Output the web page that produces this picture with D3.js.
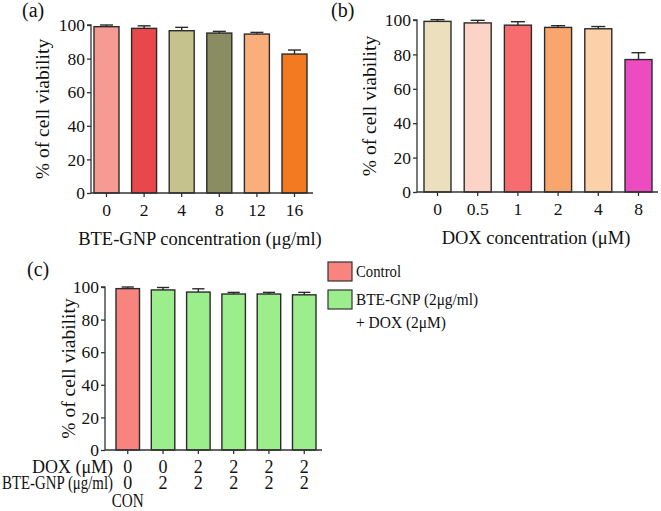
<!DOCTYPE html>
<html><head><meta charset="utf-8">
<script src="https://cdn.jsdelivr.net/npm/d3@7"></script>
<style>body{margin:0;background:#fff}</style>
</head><body><svg id="c" width="661" height="511"></svg>
<script>
// ---- data ----
const catsA = ["0","2","4","8","12","16"];
const valsA = [99.0, 98.0, 96.6, 95.2, 94.6, 82.7];
const errA  = [1.0, 1.5, 2.0, 1.0, 1.0, 2.4];
const colorsA = ["#f69a94","#e8474c","#c5c28e","#8a8c62","#f9ae7c","#f47a22"];

const catsB = ["0","0.5","1","2","4","8"];
const valsB = [99.2, 98.3, 97.0, 95.7, 94.9, 77.0];
const errB  = [1.0, 1.5, 2.0, 1.0, 1.3, 4.0];
const colorsB = ["#ebdfbe","#fbd4c7","#f76d6f","#f9a66e","#fcd0a9","#ec4cc0"];

const catsC = ["CON","G1","G2","G3","G4","G5"];
const doxC  = ["0","0","2","2","2","2"];
const bteC  = ["0","2","2","2","2","2"];
const valsC = [99.0, 98.2, 96.9, 95.7, 95.7, 95.2];
const errC  = [1.0, 1.5, 2.0, 1.0, 1.0, 1.5];
const groupC = ["Control","Combo","Combo","Combo","Combo","Combo"];
const legendLabels = ["Control","BTE-GNP (2μg/ml)","+ DOX (2μM)"];
const legendColors = {Control:"#f7847f", Combo:"#9cee8c"};

const yTicks = [0,20,40,60,80,100];

const FONT = '"Liberation Serif","Times New Roman",Times,"DejaVu Serif",serif';
const svg = d3.select("#c");
const AX = "#333";

function txt(sel){ return sel.attr("font-family",FONT).style("font-family",FONT).attr("fill","#111"); }

function panel(o){
  const g = svg.append("g");
  const y = d3.scaleLinear().domain([0,100]).range([o.y0,o.y100]);
  const n = o.cats.length;
  const s = (o.barEnd - o.barStart - o.bw)/(n-1);
  const x = d3.scaleBand().domain(o.cats).range([o.barStart,o.barEnd])
    .paddingInner(1 - o.bw/s).paddingOuter(0);
  g.selectAll("rect.bar").data(o.vals).join("rect")
    .attr("x",(d,i)=>x(o.cats[i])).attr("width",x.bandwidth())
    .attr("y",d=>y(d)).attr("height",d=>y(0)-y(d))
    .attr("fill",(d,i)=>o.colors[i]).attr("stroke","#2b2b2b").attr("stroke-width",1.4);
  const cw = x.bandwidth()*0.52;
  o.vals.forEach((d,i)=>{
    const cx = x(o.cats[i])+x.bandwidth()/2;
    g.append("line").attr("x1",cx).attr("x2",cx).attr("y1",y(d)).attr("y2",y(d+o.err[i]))
      .attr("stroke","#2b2b2b").attr("stroke-width",1.4);
    g.append("line").attr("x1",cx-cw/2).attr("x2",cx+cw/2).attr("y1",y(d+o.err[i])).attr("y2",y(d+o.err[i]))
      .attr("stroke","#2b2b2b").attr("stroke-width",1.4);
  });
  const ya = g.append("g").attr("transform",`translate(${o.axX},0)`)
    .call(d3.axisLeft(y).tickValues(yTicks).tickSize(4).tickPadding(2).tickFormat(d3.format("d")));
  ya.attr("font-family",FONT);
  ya.selectAll("path,line").attr("stroke",AX).attr("stroke-width",1.3);
  txt(ya.selectAll("text")).attr("font-size",17.5);
  ya.select(".domain").attr("d",`M-4,${o.y100}H0V${o.y0}`);
  const xa = g.append("g").attr("transform",`translate(0,${o.y0})`)
    .call(d3.axisBottom(x).tickSize(4).tickFormat(o.hideX ? "" : null));
  xa.attr("font-family",FONT);
  xa.select(".domain").attr("d",`M${o.axX},0H${o.axEnd}`);
  xa.selectAll("path,line").attr("stroke",AX).attr("stroke-width",1.3);
  txt(xa.selectAll("text")).attr("font-size",17.5).attr("dy",null).attr("y",o.tickBase - o.y0);
  txt(g.append("text")).attr("transform",`translate(${o.ytX},${(o.y0+o.y100)/2}) rotate(-90)`)
    .attr("text-anchor","middle").attr("font-size",19.5).text("% of cell viability");
  if(o.xTitle) txt(g.append("text")).attr("x",o.xtX).attr("y",o.xtY).attr("text-anchor","middle")
    .attr("font-size",18.5).text(o.xTitle);
  txt(g.append("text")).attr("x",o.lbX).attr("y",o.lbY).attr("font-size",20).text(o.label);
  return {x,y,g};
}

panel({cats:catsA, vals:valsA, err:errA, colors:colorsA, y0:193, y100:25,
  barStart:94, barEnd:307, bw:25, axX:91, axEnd:313, tickBase:216,
  ytX:49, xTitle:"BTE-GNP concentration (μg/ml)", xtX:200, xtY:245, label:"(a)", lbX:22, lbY:17});

panel({cats:catsB, vals:valsB, err:errB, colors:colorsB, y0:192, y100:20,
  barStart:424, barEnd:652, bw:27, axX:417, axEnd:658, tickBase:215,
  ytX:376, xTitle:"DOX concentration (μM)", xtX:536, xtY:244, label:"(b)", lbX:331, lbY:17});

const pc = panel({cats:catsC, vals:valsC, err:errC, colors:groupC.map(k=>legendColors[k]), y0:450, y100:287,
  barStart:116, barEnd:316, bw:23.5, axX:105, axEnd:322, tickBase:0, hideX:true,
  ytX:75, xTitle:null, label:"(c)", lbX:27, lbY:276});

const rowFont = 18;
txt(svg.append("text")).attr("x",113).attr("y",473).attr("text-anchor","end").attr("font-size",rowFont)
  .attr("textLength",81).attr("lengthAdjust","spacingAndGlyphs").text("DOX (μM)");
txt(svg.append("text")).attr("x",113).attr("y",489).attr("text-anchor","end").attr("font-size",rowFont)
  .attr("textLength",111).attr("lengthAdjust","spacingAndGlyphs").text("BTE-GNP (μg/ml)");
catsC.forEach((c,i)=>{
  const cx = pc.x(c)+pc.x.bandwidth()/2;
  txt(svg.append("text")).attr("x",cx).attr("y",473).attr("text-anchor","middle").attr("font-size",rowFont).text(doxC[i]);
  txt(svg.append("text")).attr("x",cx).attr("y",489).attr("text-anchor","middle").attr("font-size",rowFont).text(bteC[i]);
});
txt(svg.append("text")).attr("x",pc.x("CON")+pc.x.bandwidth()/2).attr("y",507).attr("text-anchor","middle")
  .attr("font-size",rowFont).attr("textLength",32).attr("lengthAdjust","spacingAndGlyphs").text("CON");

const lg = svg.append("g");
[["Control",262],["Combo",290]].forEach(([k,yy])=>{
  lg.append("rect").attr("x",328).attr("y",yy).attr("width",24).attr("height",19)
    .attr("fill",legendColors[k]).attr("stroke","#333").attr("stroke-width",1.2);
});
const legLen = [45,122,90];
[[277],[305],[328]].forEach(([yy],i)=>{
  txt(lg.append("text")).attr("x",356).attr("y",yy).attr("font-size",17.5)
    .attr("textLength",legLen[i]).attr("lengthAdjust","spacingAndGlyphs").text(legendLabels[i]);
});
</script></body></html>
